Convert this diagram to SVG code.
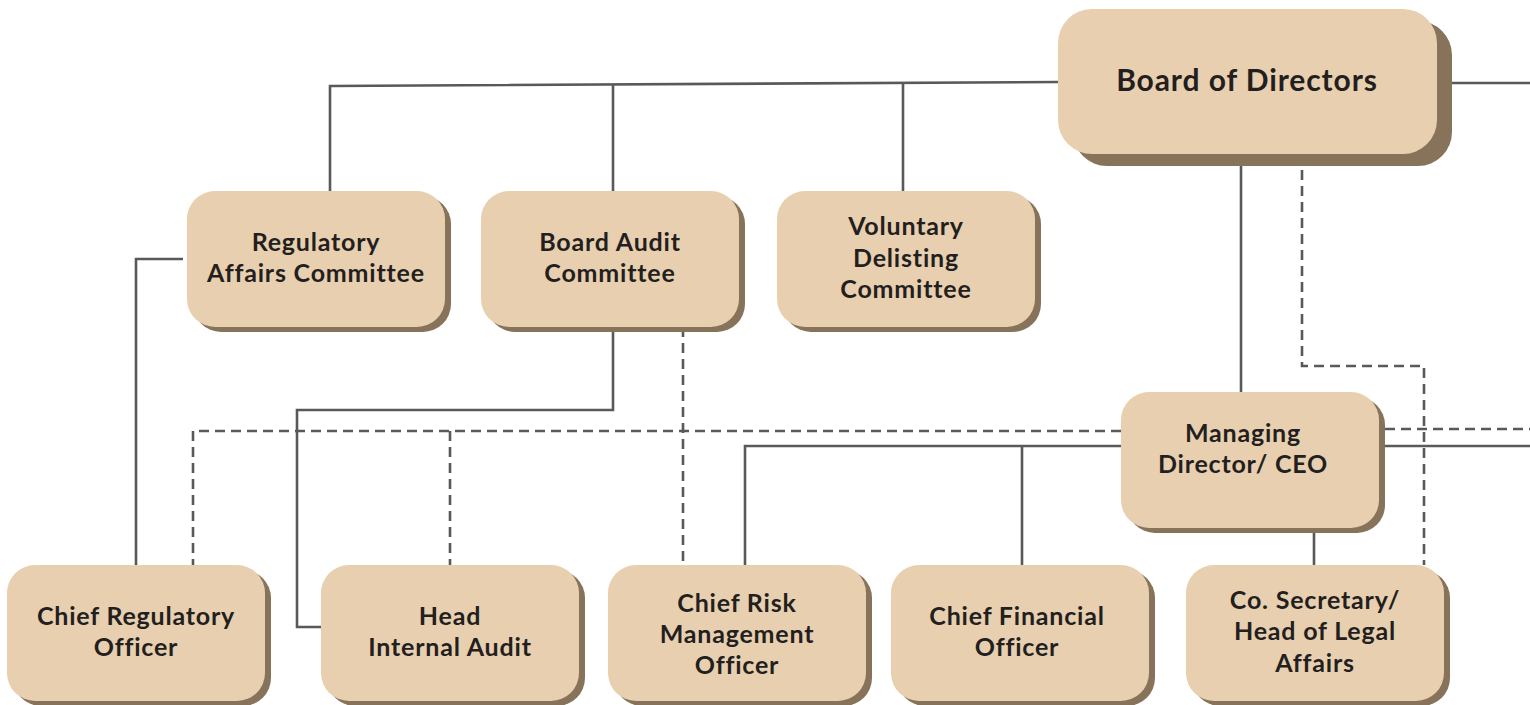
<svg xmlns="http://www.w3.org/2000/svg" width="1530" height="705" viewBox="0 0 1530 705">
<style>
.box{fill:#E8CFAF}
.sh{fill:#86735A}
.t{font-family:Lato,"Noto Sans","Liberation Sans",sans-serif;font-weight:700;font-size:25px;letter-spacing:0.8px;font-variant-ligatures:none;fill:#231F20;text-anchor:middle}
.big{font-size:30px;letter-spacing:0.9px}
.ln{fill:none;stroke:#58595B;stroke-width:2.6}
.dash{stroke-dasharray:10 6}
</style>
<rect width="1530" height="705" fill="#FFFFFF"/>
<g id="connectors">
<polyline class="ln" points="1058,82 330,86 330,191"/>
<line class="ln" x1="613" y1="85" x2="613" y2="191"/>
<line class="ln" x1="903" y1="84" x2="903" y2="191"/>
<line class="ln" x1="1437" y1="83" x2="1530" y2="83"/>
<line class="ln" x1="1241" y1="154" x2="1241" y2="392"/>
<polyline class="ln dash" points="1302,154 1302,366 1424,366 1424,565"/>
<line class="ln dash" x1="1385" y1="429" x2="1530" y2="429"/>
<line class="ln" x1="1385" y1="446" x2="1530" y2="446"/>
<polyline class="ln dash" points="1121,431 193,431 193,565"/>
<line class="ln dash" x1="450" y1="431" x2="450" y2="565"/>
<polyline class="ln" points="1121,446 745,446 745,565"/>
<line class="ln" x1="1022" y1="446" x2="1022" y2="565"/>
<line class="ln" x1="1314" y1="528" x2="1314" y2="565"/>
<polyline class="ln" points="613,327 613,410 297,410 297,627 321,627"/>
<line class="ln dash" x1="683" y1="327" x2="683" y2="565"/>
<polyline class="ln" points="183,259 136,259 136,565"/>
</g>
<g id="board">
<rect class="sh" x="1073" y="21" width="379" height="145" rx="34"/>
<rect class="box" x="1058" y="9" width="379" height="145" rx="34"/>
<text class="t big" x="1247" y="91">Board of Directors</text>
</g>
<g id="regulatory-affairs-committee">
<rect class="sh" x="193" y="196" width="258" height="136" rx="28"/>
<rect class="box" x="187" y="191" width="258" height="136" rx="28"/>
<text class="t" x="316" y="251">Regulatory</text>
<text class="t" x="316" y="282">Affairs Committee</text>
</g>
<g id="board-audit-committee">
<rect class="sh" x="487" y="196" width="258" height="136" rx="28"/>
<rect class="box" x="481" y="191" width="258" height="136" rx="28"/>
<text class="t" x="610" y="251">Board Audit</text>
<text class="t" x="610" y="282">Committee</text>
</g>
<g id="voluntary-delisting-committee">
<rect class="sh" x="783" y="196" width="258" height="136" rx="28"/>
<rect class="box" x="777" y="191" width="258" height="136" rx="28"/>
<text class="t" x="906" y="235">Voluntary</text>
<text class="t" x="906" y="267">Delisting</text>
<text class="t" x="906" y="298">Committee</text>
</g>
<g id="managing-director">
<rect class="sh" x="1127" y="397" width="258" height="136" rx="28"/>
<rect class="box" x="1121" y="392" width="258" height="136" rx="28"/>
<text class="t" x="1243" y="442">Managing</text>
<text class="t" x="1243" y="473">Director/ CEO</text>
</g>
<g id="chief-regulatory-officer">
<rect class="sh" x="13" y="570" width="258" height="136" rx="28"/>
<rect class="box" x="7" y="565" width="258" height="136" rx="28"/>
<text class="t" x="136" y="625">Chief Regulatory</text>
<text class="t" x="136" y="656">Officer</text>
</g>
<g id="head-internal-audit">
<rect class="sh" x="327" y="570" width="258" height="136" rx="28"/>
<rect class="box" x="321" y="565" width="258" height="136" rx="28"/>
<text class="t" x="450" y="625">Head</text>
<text class="t" x="450" y="656">Internal Audit</text>
</g>
<g id="chief-risk-management-officer">
<rect class="sh" x="614" y="570" width="258" height="136" rx="28"/>
<rect class="box" x="608" y="565" width="258" height="136" rx="28"/>
<text class="t" x="737" y="612">Chief Risk</text>
<text class="t" x="737" y="643">Management</text>
<text class="t" x="737" y="674">Officer</text>
</g>
<g id="chief-financial-officer">
<rect class="sh" x="897" y="570" width="258" height="136" rx="28"/>
<rect class="box" x="891" y="565" width="258" height="136" rx="28"/>
<text class="t" x="1017" y="625">Chief Financial</text>
<text class="t" x="1017" y="656">Officer</text>
</g>
<g id="company-secretary">
<rect class="sh" x="1192" y="570" width="258" height="136" rx="28"/>
<rect class="box" x="1186" y="565" width="258" height="136" rx="28"/>
<text class="t" x="1315" y="609">Co. Secretary/</text>
<text class="t" x="1315" y="640">Head of Legal</text>
<text class="t" x="1315" y="672">Affairs</text>
</g>
</svg>
